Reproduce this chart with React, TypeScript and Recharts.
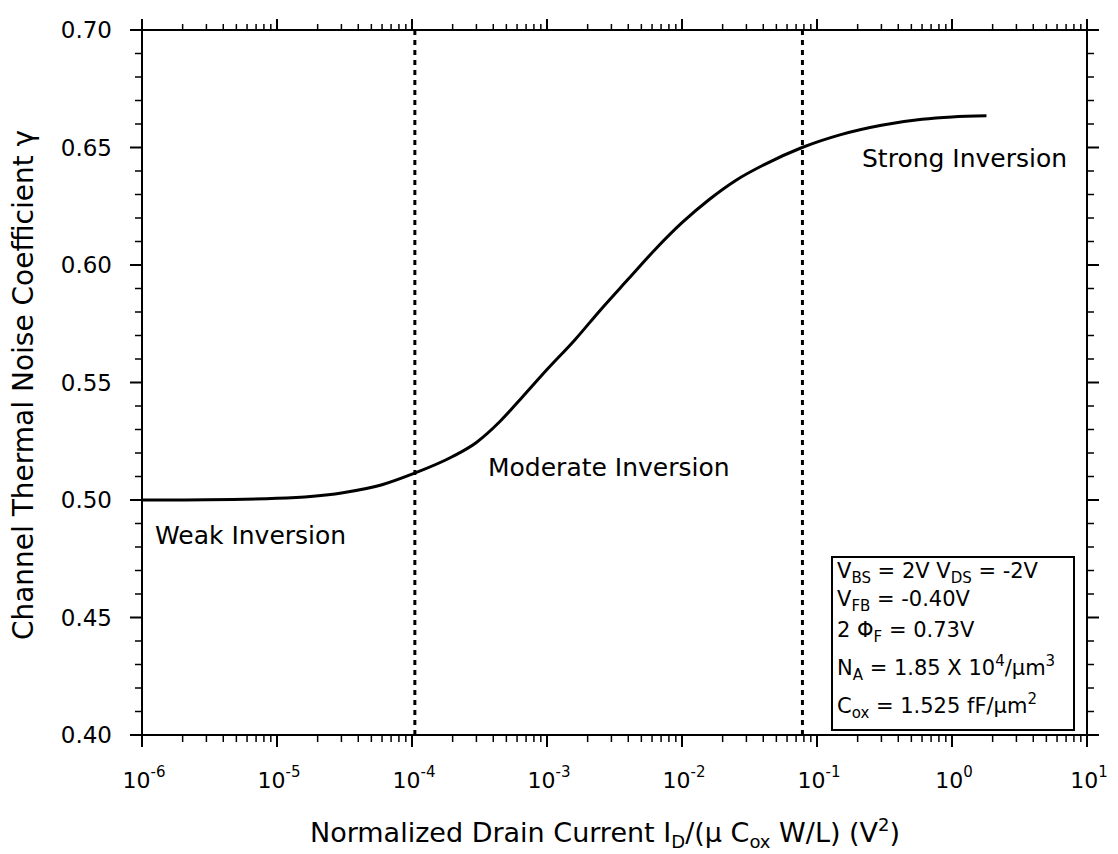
import React from 'react';
import { LineChart, Line, XAxis, YAxis, ReferenceLine } from 'recharts';

// Normalized drain current I_D/(µ Cox W/L) in V^2
const drainCurrent = [
  1e-6, 3e-6, 1e-5, 3e-5, 6e-5, 1e-4, 2e-4, 3e-4, 4.5e-4, 6.5e-4, 1e-3, 1.6e-3,
  2.5e-3, 4e-3, 6.3e-3, 1e-2, 1.6e-2, 2.5e-2, 4e-2, 7.75e-2, 0.15, 0.3, 0.6,
  1.0, 1.8,
];
// Channel thermal noise coefficient gamma
const gammaValues = [
  0.5, 0.5001, 0.5007, 0.503, 0.5065, 0.511, 0.5185, 0.5245, 0.5335, 0.5435, 0.5555,
  0.568, 0.581, 0.594, 0.6065, 0.618, 0.628, 0.636, 0.6425, 0.65, 0.6555,
  0.6595, 0.662, 0.663, 0.6635,
];

const regionBoundaries = [1.05e-4, 0.078];

const xDomain = [1e-6, 10];
const xMajorTicks = [1e-6, 1e-5, 1e-4, 1e-3, 1e-2, 1e-1, 1, 10];
const xTickExponents = ['-6', '-5', '-4', '-3', '-2', '-1', '0', '1'];
const xMinorMultipliers = [2, 3, 4, 5, 6, 7, 8, 9];

const yDomain = [0.4, 0.7];
const yMajorTicks = [0.4, 0.45, 0.5, 0.55, 0.6, 0.65, 0.7];
const yTickLabels = ['0.40', '0.45', '0.50', '0.55', '0.60', '0.65', '0.70'];
const yMinorStep = 0.01;

const xTicks: number[] = [];
xMajorTicks.forEach((m, i) => {
  xTicks.push(m);
  if (i < xMajorTicks.length - 1) xMinorMultipliers.forEach((k) => xTicks.push(m * k));
});
const yTicks: number[] = [];
for (let i = 0; i <= Math.round((yDomain[1] - yDomain[0]) / yMinorStep); i++) {
  yTicks.push(Number((yDomain[0] + i * yMinorStep).toFixed(2)));
}

const data = drainCurrent.map((x, i) => ({ x, gamma: gammaValues[i] }));

const FONT = '"DejaVu Sans", "Liberation Sans", Arial, sans-serif';

const majorXIndex = (v: number) =>
  xMajorTicks.findIndex((m) => Math.abs(Math.log10(v) - Math.log10(m)) < 1e-6);
const majorYIndex = (v: number) => yMajorTicks.findIndex((m) => Math.abs(v - m) < 1e-6);

const BottomTick = (props: any) => {
  const { x, y, payload } = props;
  const idx = majorXIndex(payload.value);
  const major = idx >= 0;
  return (
    <g>
      <line x1={x} x2={x} y1={y} y2={y + (major ? 12 : 7)} stroke="#000" strokeWidth={major ? 2 : 1.5} />
      {major && (
        <text x={x + 2} y={y + 53} textAnchor="middle" fontFamily={FONT} fontSize={22} fill="#000">
          <tspan>10</tspan>
          <tspan dy={-11} fontSize={15}>{xTickExponents[idx]}</tspan>
        </text>
      )}
    </g>
  );
};

const TopTick = (props: any) => {
  const { x, y, payload } = props;
  const major = majorXIndex(payload.value) >= 0;
  return <line x1={x} x2={x} y1={y} y2={y - (major ? 11 : 6)} stroke="#000" strokeWidth={major ? 2 : 1.5} />;
};

const LeftTick = (props: any) => {
  const { x, y, payload } = props;
  const idx = majorYIndex(payload.value);
  const major = idx >= 0;
  return (
    <g>
      <line x1={x} x2={x - (major ? 12 : 7)} y1={y} y2={y} stroke="#000" strokeWidth={major ? 2 : 1.5} />
      {major && (
        <text x={x - 30} y={y + 8} textAnchor="end" fontFamily={FONT} fontSize={23} fill="#000">
          {yTickLabels[idx]}
        </text>
      )}
    </g>
  );
};

const RightTick = (props: any) => {
  const { x, y, payload } = props;
  const major = majorYIndex(payload.value) >= 0;
  return <line x1={x} x2={x + (major ? 12 : 7)} y1={y} y2={y} stroke="#000" strokeWidth={major ? 2 : 1.5} />;
};

const axisLine = { stroke: '#000', strokeWidth: 2 };

export default function App() {
  return (
    <div style={{ position: 'absolute', left: 0, top: 0, width: 1118, height: 854, background: '#fff' }}>
      <LineChart width={1118} height={854} data={data} margin={{ top: 0, right: 0, bottom: 0, left: 0 }}>
        <XAxis
          xAxisId="bottom"
          dataKey="x"
          type="number"
          scale="log"
          domain={xDomain}
          allowDataOverflow
          ticks={xTicks}
          interval={0}
          tickSize={0}
          tickMargin={0}
          tickLine={false}
          axisLine={axisLine}
          tick={<BottomTick />}
          height={119}
        />
        <XAxis
          xAxisId="top"
          orientation="top"
          dataKey="x"
          type="number"
          scale="log"
          domain={xDomain}
          allowDataOverflow
          ticks={xTicks}
          interval={0}
          tickSize={0}
          tickMargin={0}
          tickLine={false}
          axisLine={axisLine}
          tick={<TopTick />}
          height={30}
        />
        <YAxis
          yAxisId="left"
          type="number"
          domain={yDomain}
          allowDataOverflow
          ticks={yTicks}
          interval={0}
          tickSize={0}
          tickMargin={0}
          tickLine={false}
          axisLine={axisLine}
          tick={<LeftTick />}
          width={142}
        />
        <YAxis
          yAxisId="right"
          orientation="right"
          type="number"
          domain={yDomain}
          allowDataOverflow
          ticks={yTicks}
          interval={0}
          tickSize={0}
          tickMargin={0}
          tickLine={false}
          axisLine={axisLine}
          tick={<RightTick />}
          width={31}
        />
        {regionBoundaries.map((b) => (
          <ReferenceLine
            key={b}
            x={b}
            xAxisId="bottom"
            yAxisId="left"
            stroke="#000"
            strokeWidth={3}
            strokeDasharray="5 5"
          />
        ))}
        <Line
          xAxisId="bottom"
          yAxisId="left"
          type="monotone"
          dataKey="gamma"
          stroke="#000"
          strokeWidth={3}
          dot={false}
          isAnimationActive={false}
        />
      </LineChart>
      <svg
        width={1118}
        height={854}
        style={{ position: 'absolute', left: 0, top: 0, pointerEvents: 'none' }}
        fontFamily={FONT}
        fill="#000"
      >
        <text x={23} y={385} transform="rotate(-90 23 385)" textAnchor="middle" dominantBaseline="central" fontSize={28}>
          Channel Thermal Noise Coefficient γ
        </text>
        <text x={605} y={842} textAnchor="middle" fontSize={27}>
          <tspan>Normalized Drain Current I</tspan>
          <tspan dy={6} fontSize={18}>D</tspan>
          <tspan dy={-6}>/(µ C</tspan>
          <tspan dy={6} fontSize={18}>ox</tspan>
          <tspan dy={-6}> W/L) (V</tspan>
          <tspan dy={-11} fontSize={18}>2</tspan>
          <tspan dy={11}>)</tspan>
        </text>
        <text x={862} y={167} fontSize={25}>Strong Inversion</text>
        <text x={488} y={476} fontSize={25}>Moderate Inversion</text>
        <text x={155} y={544} fontSize={25}>Weak Inversion</text>
        <rect x={832} y={557} width={242} height={173} fill="#fff" stroke="#000" strokeWidth={2} />
        <g fontSize={21}>
          <text x={837} y={578}>
            <tspan>V</tspan>
            <tspan dy={5} fontSize={15}>BS</tspan>
            <tspan dy={-5}> = 2V V</tspan>
            <tspan dy={5} fontSize={15}>DS</tspan>
            <tspan dy={-5}> = -2V</tspan>
          </text>
          <text x={837} y={606}>
            <tspan>V</tspan>
            <tspan dy={5} fontSize={15}>FB</tspan>
            <tspan dy={-5}> = -0.40V</tspan>
          </text>
          <text x={837} y={637}>
            <tspan>2 Φ</tspan>
            <tspan dy={5} fontSize={15}>F</tspan>
            <tspan dy={-5}> = 0.73V</tspan>
          </text>
          <text x={837} y={675}>
            <tspan>N</tspan>
            <tspan dy={5} fontSize={15}>A</tspan>
            <tspan dy={-5}> = 1.85 X 10</tspan>
            <tspan dy={-9} fontSize={15}>4</tspan>
            <tspan dy={9}>/µm</tspan>
            <tspan dy={-9} fontSize={15}>3</tspan>
          </text>
          <text x={837} y={713}>
            <tspan>C</tspan>
            <tspan dy={5} fontSize={15}>ox</tspan>
            <tspan dy={-5}>  = 1.525 fF/µm</tspan>
            <tspan dy={-9} fontSize={15}>2</tspan>
          </text>
        </g>
      </svg>
    </div>
  );
}
